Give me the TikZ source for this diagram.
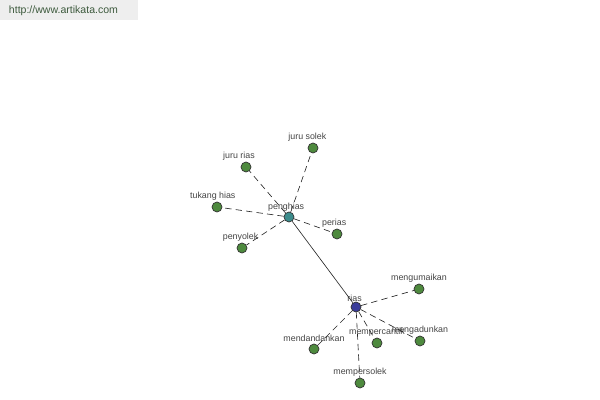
\documentclass[tikz,border=0pt]{standalone}
\usepackage{fontspec}
\setmainfont{Liberation Sans}
\usetikzlibrary{positioning}
\definecolor{leafgreen}{HTML}{4E8A3E}
\definecolor{hubteal}{HTML}{3C8C8C}
\definecolor{hubblue}{HTML}{3A3C9A}
\definecolor{lblgray}{HTML}{444444}
\definecolor{bargray}{HTML}{EEEEEE}
\definecolor{urlgreen}{HTML}{3D5A3D}

\begin{document}
\begin{tikzpicture}[
  x=0.025cm, y=-0.025cm,
  dot/.style={circle, draw=black!80, line width=0.5pt, inner sep=0pt, minimum size=2.5mm},
  leaf/.style={dot, fill=leafgreen},
  lbl/.style={font=\fontsize{6.3}{7}\selectfont, text=lblgray, inner sep=1pt},
  link/.style={draw=black!85, line width=0.45pt, dash pattern=on 4.5pt off 3pt},
  bond/.style={draw=black!85, line width=0.45pt}
]
\useasboundingbox (0,0) rectangle (600,400);
% header
\fill[bargray] (0,0) rectangle (138,20);
\node[font=\fontsize{7.5}{9}\selectfont, text=urlgreen, anchor=west] (url) at (4,11) {http://www.artikata.com};

% hubs
\node[dot, fill=hubteal, label={[lbl, label distance=-1pt, xshift=-2pt]above:penghias}] (penghias) at (289,217) {};
\node[dot, fill=hubblue, label={[lbl, label distance=-1pt, xshift=-1pt]above:rias}] (rias) at (356,307) {};

% words round penghias
\node[leaf, label={[lbl, xshift=-4pt]above:juru solek}] (jurusolek) at (313,148) {};
\node[leaf, label={[lbl, xshift=-5pt]above:juru rias}] (jururias) at (246,167) {};
\node[leaf, label={[lbl, xshift=-3pt]above:tukang hias}] (tukanghias) at (217,207) {};
\node[leaf, label={[lbl, xshift=-1pt]above:penyolek}] (penyolek) at (242,248) {};
\node[leaf, label={[lbl, xshift=-2pt]above:perias}] (perias) at (337,234) {};

% words round rias
\node[leaf, label={[lbl]above:mengumaikan}] (mengumaikan) at (419,289) {};
\node[leaf, label={[lbl]above:mempercantik}] (mempercantik) at (377,343) {};
\node[leaf, label={[lbl]above:mengadunkan}] (mengadunkan) at (420,341) {};
\node[leaf, label={[lbl]above:mendandankan}] (mendandankan) at (314,349) {};
\node[leaf, label={[lbl]above:mempersolek}] (mempersolek) at (360,383) {};

\foreach \w in {jurusolek,jururias,tukanghias,penyolek,perias}
  \draw[link] (penghias) -- (\w);
\foreach \w in {mengumaikan,mempercantik,mengadunkan,mendandankan,mempersolek}
  \draw[link] (rias) -- (\w);
\draw[bond] (penghias) -- (rias);
\end{tikzpicture}
\end{document}
